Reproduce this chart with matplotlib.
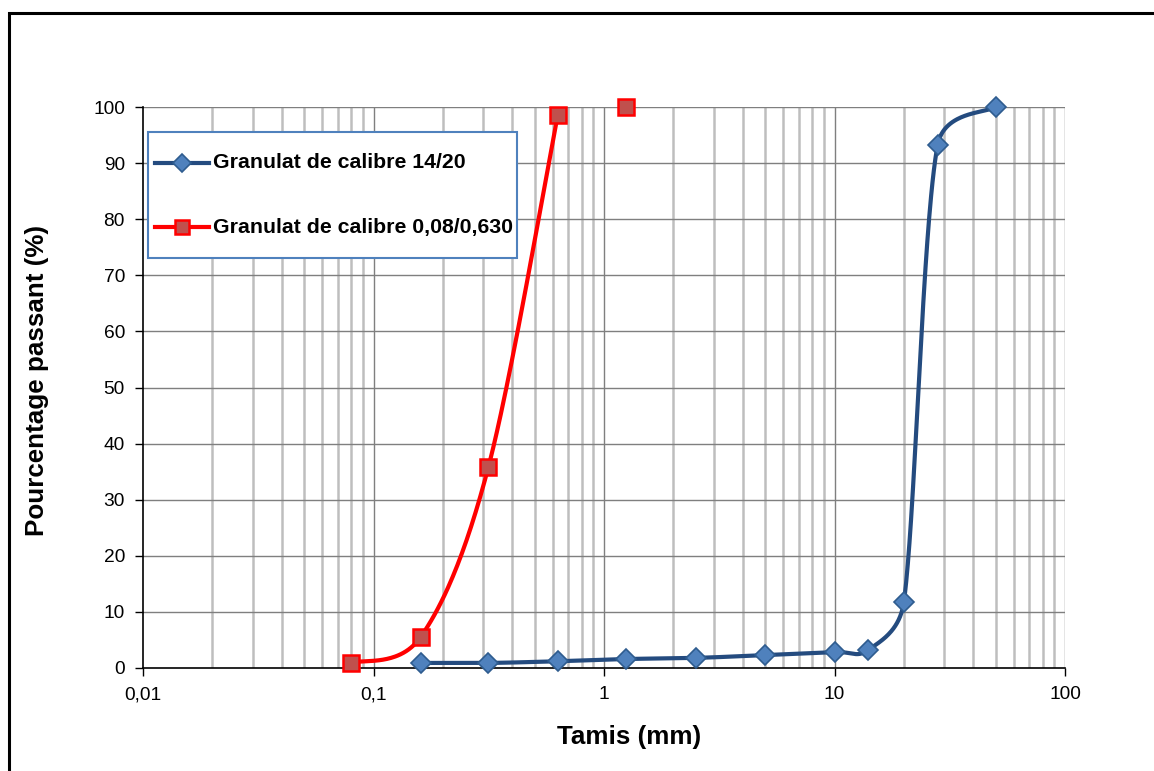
import numpy as np
import matplotlib
matplotlib.use("Agg")
import matplotlib.pyplot as plt
from matplotlib.lines import Line2D
from matplotlib.patches import Rectangle
from matplotlib.ticker import FixedLocator, NullFormatter

plt.rcParams["font.family"] = ["Liberation Sans", "DejaVu Sans"]

# Sieve openings (mm) and cumulative passing (%)
sieves_gravel = [0.16, 0.315, 0.63, 1.25, 2.5, 5, 10, 14, 20, 28, 50]
passing_gravel = [0.9, 0.9, 1.2, 1.6, 1.8, 2.3, 2.85, 3.2, 11.8, 93.2, 100]

sieves_sand = [0.08, 0.16, 0.315, 0.63, 1.25]
passing_sand = [0.9, 5.5, 35.8, 98.6, 100]
sand_curve_points = 4  # the smoothed curve stops at 0.63 mm

label_gravel = "Granulat de calibre 14/20"
label_sand = "Granulat de calibre 0,08/0,630"

x_ticks = [0.01, 0.1, 1, 10, 100]
x_ticklabels = ["0,01", "0,1", "1", "10", "100"]
y_ticks = list(range(0, 101, 10))

BLUE_LINE = "#244B7F"
BLUE_FILL = "#4F81BD"
BLUE_EDGE = "#2E5C8F"
RED_LINE = "#FF0000"
RED_FILL = "#C0504D"

fig = plt.figure(figsize=(11.54, 7.71), dpi=100)
W, H = 1154, 771
left, right, top, bottom = 143, 1065, 107, 668
ax = fig.add_axes([left / W, 1 - bottom / H, (right - left) / W, (bottom - top) / H])
ax.set_xscale("log")
ax.set_xlim(0.01, 100)
ax.set_ylim(0, 100)

# screen scale of the axes (pixels per decade, pixels per percent)
PX_DECADE = (right - left) / 4.0
PX_PERCENT = (bottom - top) / 100.0


def _limit(vec, max_len):
    n = np.linalg.norm(vec)
    if n > max_len and n > 0:
        return vec * (max_len / n)
    return vec


def smooth_curve(xs, ys, n=60):
    """Cardinal Bezier smoothing in screen space (tension 1/6, tangents capped
    at half the length of the segment they belong to)."""
    u = np.log10(np.asarray(xs, float)) * PX_DECADE
    v = np.asarray(ys, float) * PX_PERCENT
    pts = np.column_stack([u, v])
    m = len(pts)
    out = [pts[0]]
    t = np.linspace(0, 1, n)[1:, None]
    for i in range(m - 1):
        p1, p2 = pts[i], pts[i + 1]
        p0 = pts[i - 1] if i > 0 else p1
        p3 = pts[i + 2] if i + 2 < m else p2
        d12 = np.linalg.norm(p2 - p1)
        c1 = p1 + _limit((p2 - p0) / 6.0, 0.5 * d12)
        c2 = p2 - _limit((p3 - p1) / 6.0, 0.5 * d12)
        seg = ((1 - t) ** 3) * p1 + 3 * ((1 - t) ** 2) * t * c1 \
            + 3 * (1 - t) * t ** 2 * c2 + t ** 3 * p2
        out.extend(seg)
    out = np.array(out)
    return 10 ** (out[:, 0] / PX_DECADE), out[:, 1] / PX_PERCENT


# outer chart border
fig.patches.append(Rectangle((8.5 / W, -0.01), 1.02, (771 - 12.5) / H + 0.01,
                             transform=fig.transFigure, fill=False,
                             edgecolor="black", linewidth=2.2, zorder=0))

# grid: light minor verticals, darker decade/horizontal lines
minor_x = [k * 10.0 ** e for e in range(-2, 2) for k in range(2, 10)]
for xv in minor_x:
    ax.axvline(xv, color="#BEBEBE", linewidth=1.8, zorder=0)
for xv in x_ticks[1:]:
    ax.axvline(xv, color="#7F7F7F", linewidth=1.0, zorder=0.5)
for yv in y_ticks[1:]:
    ax.axhline(yv, color="#7F7F7F", linewidth=1.0, zorder=0.5)

# gravel series
gx, gy = smooth_curve(sieves_gravel, passing_gravel)
ax.plot(gx, gy, color=BLUE_LINE, linewidth=3.0, zorder=3, solid_capstyle="round",
        clip_on=False)
ax.plot(sieves_gravel, passing_gravel, linestyle="none", marker="D",
        markersize=10, markerfacecolor=BLUE_FILL, markeredgecolor=BLUE_EDGE,
        markeredgewidth=1.2, zorder=4, clip_on=False)

# sand series
sx, sy = smooth_curve(sieves_sand[:sand_curve_points], passing_sand[:sand_curve_points])
ax.plot(sx, sy, color=RED_LINE, linewidth=3.0, zorder=3, solid_capstyle="round",
        clip_on=False)
ax.plot(sieves_sand, passing_sand, linestyle="none", marker="s",
        markersize=11, markerfacecolor=RED_FILL, markeredgecolor=RED_LINE,
        markeredgewidth=1.8, zorder=4, clip_on=False)

# axes styling
for side in ("top", "right"):
    ax.spines[side].set_visible(False)
for side in ("left", "bottom"):
    ax.spines[side].set_color("black")
    ax.spines[side].set_linewidth(1.2)
ax.xaxis.set_major_locator(FixedLocator(x_ticks))
ax.set_xticklabels(x_ticklabels)
ax.xaxis.set_minor_locator(FixedLocator(minor_x))
ax.xaxis.set_minor_formatter(NullFormatter())
ax.tick_params(axis="x", which="minor", length=0)
ax.set_yticks(y_ticks)
ax.tick_params(axis="both", which="major", direction="out", length=6,
               width=1.0, color="black", labelsize=13.8, pad=7)

ax.set_xlabel("Tamis (mm)", fontsize=18.7, fontweight="bold")
ax.xaxis.set_label_coords((629 - left) / (right - left), (bottom - 737) / (bottom - top))
ax.xaxis.label.set_va("center")
ax.set_ylabel("Pourcentage passant (%)", fontsize=18.7, fontweight="bold")
ax.yaxis.set_label_coords((37 - left) / (right - left), (bottom - 381) / (bottom - top))
ax.yaxis.label.set_va("center")


# legend box
def fx(px):
    return (px - left) / (right - left)


def fy(py):
    return (bottom - py) / (bottom - top)


ax.add_patch(Rectangle((fx(148), fy(258)), fx(517) - fx(148), fy(132) - fy(258),
                       transform=ax.transAxes, facecolor="white",
                       edgecolor="#4F81BD", linewidth=1.5, zorder=6))
entries = [
    (163, BLUE_LINE, "D", 9, BLUE_FILL, BLUE_EDGE, 1.2, label_gravel),
    (227, RED_LINE, "s", 10, RED_FILL, RED_LINE, 1.8, label_sand),
]
for py, lc, mk, ms, mf, me, mew, lab in entries:
    ax.add_line(Line2D([fx(155), fx(209)], [fy(py), fy(py)], transform=ax.transAxes,
                       color=lc, linewidth=3.0, zorder=7))
    ax.add_line(Line2D([fx(182)], [fy(py)], transform=ax.transAxes, marker=mk,
                       markersize=ms, markerfacecolor=mf, markeredgecolor=me,
                       markeredgewidth=mew, linestyle="none", zorder=8))
    ax.text(fx(213), fy(py), lab, transform=ax.transAxes, fontsize=15.3,
            fontweight="bold", va="center", ha="left", zorder=8)

fig.savefig("out.png", dpi=100, facecolor="white")
